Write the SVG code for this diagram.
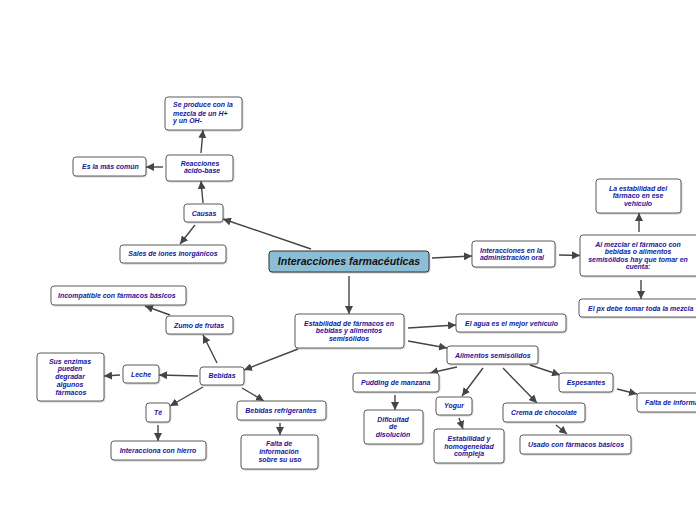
<svg xmlns="http://www.w3.org/2000/svg" width="696" height="520" viewBox="0 0 696 520">
<defs>
<style>
.n rect{fill:#fff;stroke:#5e5e5e;stroke-width:1;filter:url(#sh)}
.n text{font-family:"Liberation Sans",Arial,sans-serif;font-weight:bold;font-style:italic;font-size:6.95px;fill:#17179a}
.c{text-anchor:middle}
#root rect{fill:#8cbed6;stroke:#333;stroke-width:1}
#root text{font-size:10.6px;fill:#111}
#edges line{stroke:#454545;stroke-width:1.4;marker-end:url(#ah)}
</style>
<filter id="sh" x="-10%" y="-20%" width="120%" height="150%">
<feDropShadow dx="0.6" dy="0.8" stdDeviation="0.7" flood-color="#000" flood-opacity="0.25"/>
</filter>
<marker id="ah" viewBox="0 0 10 10" refX="10" refY="5" markerWidth="8" markerHeight="8" markerUnits="userSpaceOnUse" orient="auto">
<path d="M0,0 L10,5 L0,10 Z" fill="#454545"/>
</marker>
</defs>
<rect width="696" height="520" fill="#fff"/>
<g id="edges">
<line x1="311" y1="249" x2="223" y2="219"/>
<line x1="203" y1="203" x2="201" y2="181"/>
<line x1="201" y1="153" x2="203" y2="130"/>
<line x1="163" y1="167" x2="146" y2="167"/>
<line x1="195" y1="225" x2="180" y2="244"/>
<line x1="432" y1="258" x2="472" y2="256"/>
<line x1="559" y1="255" x2="580" y2="255.5"/>
<line x1="639" y1="232" x2="639" y2="213"/>
<line x1="641" y1="280" x2="641" y2="299"/>
<line x1="349" y1="276" x2="349" y2="314"/>
<line x1="408" y1="328" x2="456" y2="325"/>
<line x1="408" y1="341" x2="447" y2="348"/>
<line x1="457" y1="367" x2="430" y2="373"/>
<line x1="483" y1="368" x2="462" y2="396"/>
<line x1="503" y1="368" x2="537" y2="403"/>
<line x1="530" y1="365" x2="560" y2="375"/>
<line x1="617" y1="389" x2="637" y2="394"/>
<line x1="556" y1="425" x2="567" y2="434"/>
<line x1="395" y1="395" x2="395" y2="410"/>
<line x1="459" y1="418" x2="463" y2="429"/>
<line x1="298" y1="349" x2="244" y2="370"/>
<line x1="217" y1="363" x2="203" y2="335"/>
<line x1="170" y1="315" x2="145" y2="306"/>
<line x1="198" y1="376" x2="159" y2="375"/>
<line x1="120" y1="375" x2="104" y2="376"/>
<line x1="203" y1="387" x2="170" y2="406"/>
<line x1="242" y1="388" x2="264" y2="401"/>
<line x1="158" y1="425" x2="158" y2="441"/>
<line x1="280" y1="423" x2="280" y2="435"/>
</g>
<g id="root" class="n"><rect x="269" y="251" width="160" height="21" rx="3"/><text class="c" x="349" y="265.3">Interacciones farmacéuticas</text></g>
<g id="causas" class="n"><rect x="184" y="204" width="39" height="18" rx="3"/><text class="c" x="204" y="215.5">Causas</text></g>
<g id="reacciones" class="n"><rect x="166" y="155" width="67" height="26" rx="3"/><text class="c" x="200" y="165.7">Reacciones</text><text class="c" x="202" y="173.4">ácido-base</text></g>
<g id="seproduce" class="n"><rect x="165" y="97" width="77" height="33" rx="3"/><text x="173" y="107.4">Se produce con la</text><text x="173" y="115.7">mezcla de un H+</text><text x="173" y="123.4">y un OH-</text></g>
<g id="comun" class="n"><rect x="73" y="157" width="73" height="19" rx="3"/><text x="82" y="169">Es la más común</text></g>
<g id="sales" class="n"><rect x="120" y="245" width="106" height="18" rx="3"/><text class="c" x="173" y="256.4">Sales de iones inorgánicos</text></g>
<g id="admoral" class="n"><rect x="472" y="241" width="83" height="26" rx="3"/><text x="480" y="253">Interacciones en la</text><text x="480" y="260.2">administración oral</text></g>
<g id="almezclar" class="n"><rect x="580" y="235" width="125" height="41" rx="3"/><text class="c" x="638" y="246.7">Al mezclar el fármaco con</text><text class="c" x="638" y="253.8">bebidas o alimentos</text><text class="c" x="638" y="261.6">semisólidos hay que tomar en</text><text class="c" x="638" y="269">cuenta:</text></g>
<g id="laestab" class="n"><rect x="596" y="179" width="85" height="34" rx="3"/><text class="c" x="638" y="190.7">La estabilidad del</text><text class="c" x="638" y="198">fármaco en ese</text><text class="c" x="638" y="205.6">vehículo</text></g>
<g id="elpx" class="n"><rect x="579" y="299" width="125" height="18" rx="3"/><text x="588" y="310.6">El px debe tomar toda la mezcla</text></g>
<g id="estab" class="n"><rect x="295" y="314" width="109" height="34" rx="3"/><text class="c" x="349" y="325.7">Estabilidad de fármacos en</text><text class="c" x="349" y="333">bebidas y alimentos</text><text class="c" x="349" y="340.6">semisólidos</text></g>
<g id="agua" class="n"><rect x="456" y="314" width="110" height="18" rx="3"/><text x="465" y="325.6">El agua es el mejor vehículo</text></g>
<g id="alimentos" class="n"><rect x="447" y="346" width="91" height="18" rx="3"/><text x="455" y="357.6">Alimentos semisólidos</text></g>
<g id="pudding" class="n"><rect x="353" y="373" width="86" height="19" rx="3"/><text x="361" y="384.6">Pudding de manzana</text></g>
<g id="dificultad" class="n"><rect x="364" y="410" width="59" height="34" rx="3"/><text class="c" x="393" y="422.3">Dificultad</text><text class="c" x="393" y="429">de</text><text class="c" x="393" y="436.6">disolución</text></g>
<g id="yogur" class="n"><rect x="436" y="397" width="36" height="18" rx="3"/><text class="c" x="454" y="407.7">Yogur</text></g>
<g id="homog" class="n"><rect x="434" y="429" width="70" height="34" rx="3"/><text class="c" x="469" y="441">Estabilidad y</text><text class="c" x="469" y="449">homogeneidad</text><text class="c" x="469" y="455.6">compleja</text></g>
<g id="crema" class="n"><rect x="503" y="403" width="82" height="19" rx="3"/><text x="511" y="414.6">Crema de chocolate</text></g>
<g id="usado" class="n"><rect x="520" y="435" width="111" height="19" rx="3"/><text x="528" y="446.6">Usado con fármacos básicos</text></g>
<g id="espesantes" class="n"><rect x="559" y="373" width="54" height="19" rx="3"/><text class="c" x="586" y="385">Espesantes</text></g>
<g id="faltainf" class="n"><rect x="637" y="393" width="90" height="19" rx="3"/><text x="645" y="405">Falta de información</text></g>
<g id="bebidas" class="n"><rect x="200" y="367" width="44" height="18" rx="3"/><text class="c" x="222" y="378">Bebidas</text></g>
<g id="zumo" class="n"><rect x="166" y="316" width="67" height="18" rx="3"/><text x="174" y="328">Zumo de frutas</text></g>
<g id="incompat" class="n"><rect x="51" y="286" width="135" height="19" rx="3"/><text x="58" y="298">Incompatible con fármacos básicos</text></g>
<g id="leche" class="n"><rect x="123" y="365" width="36" height="18" rx="3"/><text class="c" x="141" y="376.6">Leche</text></g>
<g id="enzimas" class="n"><rect x="37" y="353" width="67" height="48" rx="3"/><text class="c" x="70" y="364">Sus enzimas</text><text class="c" x="70" y="371.4">pueden</text><text class="c" x="70" y="379">degradar</text><text class="c" x="70" y="386.6">algunos</text><text class="c" x="71" y="394.8">fármacos</text></g>
<g id="te" class="n"><rect x="146" y="403" width="24" height="19" rx="3"/><text class="c" x="158" y="414.6">Té</text></g>
<g id="hierro" class="n"><rect x="111" y="441" width="95" height="19" rx="3"/><text class="c" x="158" y="453.3">Interacciona con hierro</text></g>
<g id="refrig" class="n"><rect x="237" y="401" width="89" height="19" rx="3"/><text class="c" x="281" y="413">Bebidas refrigerantes</text></g>
<g id="faltauso" class="n"><rect x="241" y="435" width="77" height="34" rx="3"/><text class="c" x="279" y="446.3">Falta de</text><text class="c" x="279" y="454">información</text><text class="c" x="280" y="462.3">sobre su uso</text></g>
</svg>
